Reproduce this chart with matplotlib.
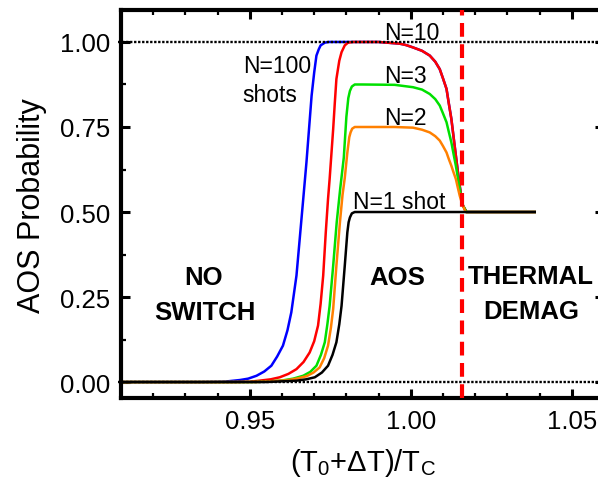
import matplotlib
matplotlib.use("Agg")
import matplotlib.pyplot as plt
from matplotlib.ticker import MultipleLocator

plt.rcParams['font.family'] = ['Liberation Sans', 'DejaVu Sans']
plt.rcParams['mathtext.default'] = 'regular'

# curves: (T0+dT)/Tc and AOS probability
x_n100 = [0.910, 0.935, 0.942, 0.947, 0.9495, 0.9521, 0.9545, 0.9567, 0.9585, 0.9603, 0.9617,
          0.9629, 0.9645, 0.9655, 0.9666, 0.9676, 0.9692, 0.9700, 0.9707, 0.9714, 0.9720, 0.9733,
          0.9745, 0.990, 0.9966, 0.9985, 1.0007, 1.0035, 1.0059, 1.0076, 1.009, 1.0100, 1.0111,
          1.0118, 1.0126, 1.0133, 1.014, 1.0146, 1.0152, 1.0157, 1.0162, 1.0173, 1.0385]
y_n100 = [0.0, 0.0, 0.001, 0.006, 0.010, 0.0185, 0.031, 0.048, 0.075, 0.107, 0.152,
          0.205, 0.313, 0.42, 0.538, 0.646, 0.842, 0.91, 0.96, 0.978, 0.99, 0.998,
          1.0, 1.0, 0.995, 0.991, 0.984, 0.974, 0.96, 0.942, 0.92, 0.893, 0.862,
          0.82, 0.774, 0.72, 0.666, 0.62, 0.577, 0.545, 0.519, 0.5, 0.5]

x_n10 = [0.910, 0.945, 0.950, 0.953, 0.9565, 0.9593, 0.962, 0.9645, 0.9667, 0.9686, 0.9700,
         0.9712, 0.9720, 0.9728, 0.9736, 0.9743, 0.9748, 0.9759, 0.9764, 0.9769, 0.9778, 0.9785,
         0.9795, 0.9805, 0.982, 0.990, 0.9966, 0.9985, 1.0007, 1.0035, 1.0059, 1.0076, 1.009,
         1.0100, 1.0111, 1.0118, 1.0126, 1.0133, 1.014, 1.0146, 1.0152, 1.0157, 1.0162, 1.0173,
         1.0385]
y_n10 = [0.0, 0.0, 0.001, 0.004, 0.008, 0.014, 0.024, 0.038, 0.059, 0.087, 0.12,
         0.166, 0.23, 0.313, 0.44, 0.538, 0.597, 0.744, 0.82, 0.891, 0.945, 0.97,
         0.99, 0.998, 1.0, 1.0, 0.995, 0.991, 0.984, 0.974, 0.96, 0.942, 0.92,
         0.893, 0.862, 0.82, 0.774, 0.72, 0.666, 0.62, 0.577, 0.545, 0.519, 0.5,
         0.5]

x_n3 = [0.910, 0.950, 0.955, 0.9603, 0.9635, 0.9666, 0.9688, 0.9707, 0.9721, 0.9733, 0.9741,
        0.9748, 0.9759, 0.9770, 0.9781, 0.9792, 0.9800, 0.9806, 0.9811, 0.9817, 0.9826, 0.985,
        0.995, 1.0007, 1.0035, 1.0059, 1.0076, 1.009, 1.0100, 1.0111, 1.0118, 1.0126, 1.0133,
        1.014, 1.0146, 1.0152, 1.0157, 1.0162, 1.0173, 1.0385]
y_n3 = [0.0, 0.0, 0.001, 0.005, 0.010, 0.0185, 0.03, 0.048, 0.08, 0.117, 0.17,
        0.224, 0.342, 0.47, 0.57, 0.66, 0.78, 0.835, 0.856, 0.869, 0.875, 0.875,
        0.874, 0.867, 0.86, 0.847, 0.832, 0.813, 0.79, 0.764, 0.736, 0.705, 0.67,
        0.636, 0.602, 0.568, 0.541, 0.519, 0.5, 0.5]

x_n2 = [0.910, 0.952, 0.9614, 0.9645, 0.9676, 0.9698, 0.9717, 0.9731, 0.9743, 0.9752, 0.9759,
        0.9769, 0.9780, 0.9788, 0.9795, 0.9803, 0.9809, 0.9813, 0.9818, 0.9826, 0.985, 0.995,
        1.0007, 1.0035, 1.0059, 1.0076, 1.009, 1.0100, 1.0111, 1.0118, 1.0126, 1.0133, 1.014,
        1.0146, 1.0152, 1.0157, 1.0162, 1.017, 1.0385]
y_n2 = [0.0, 0.0, 0.005, 0.010, 0.017, 0.028, 0.043, 0.07, 0.107, 0.16, 0.215,
        0.342, 0.47, 0.55, 0.60, 0.675, 0.72, 0.734, 0.745, 0.75, 0.75, 0.75,
        0.748, 0.742, 0.734, 0.723, 0.71, 0.694, 0.675, 0.656, 0.636, 0.616, 0.597,
        0.572, 0.548, 0.532, 0.519, 0.5, 0.5]

x_n1 = [0.910, 0.955, 0.9645, 0.9675, 0.9702, 0.9724, 0.9743, 0.9757, 0.9769, 0.9778, 0.9785,
        0.9795, 0.9803, 0.9807, 0.9811, 0.9817, 0.9826, 1.0385]
y_n1 = [0.0, 0.0, 0.004, 0.008, 0.014, 0.028, 0.048, 0.08, 0.117, 0.17, 0.224,
        0.342, 0.44, 0.47, 0.484, 0.496, 0.5, 0.5]

x_tc = 1.016  # thermal demag threshold

fig = plt.figure(figsize=(5.98, 4.89), dpi=100)
ax = fig.add_axes([0.2023, 0.184, 0.8077, 0.7925])

lw = 1.8
ax.plot(x_n100, y_n100, color='#0000ff', lw=lw)
ax.plot(x_n10, y_n10, color='#ff0000', lw=lw)
ax.plot(x_n3, y_n3, color='#00e000', lw=lw)
ax.plot(x_n2, y_n2, color='#ff8000', lw=lw)
ax.plot(x_n1, y_n1, color='black', lw=lw)

for yy in (0.0, 1.0):
    ax.plot([0.909, 1.06], [yy, yy], color='black', lw=1.7, dashes=(1.0, 0.7),
            clip_on=False, zorder=4)

ax.axvline(x_tc, color='#ff0000', lw=3, dashes=(3.3, 1.8), zorder=5)

ax.set_xlim(0.91, 1.06)
ax.set_ylim(-0.047, 1.0926)
ax.xaxis.set_major_locator(MultipleLocator(0.05))
ax.xaxis.set_minor_locator(MultipleLocator(0.01))
ax.yaxis.set_major_locator(MultipleLocator(0.25))
ax.yaxis.set_minor_locator(MultipleLocator(0.125))
ax.xaxis.set_major_formatter(plt.FormatStrFormatter('%.2f'))
ax.yaxis.set_major_formatter(plt.FormatStrFormatter('%.2f'))

for s in ax.spines.values():
    s.set_linewidth(3)
ax.tick_params(which='both', direction='in', top=True, right=True, labelsize=18.5, pad=8)
ax.tick_params(which='major', length=6.5, width=2.2)
ax.tick_params(which='minor', length=3.8, width=1.6)

ax.set_xlabel('(T$_0$+ΔT)/T$_C$', fontsize=21, labelpad=9)
ax.set_ylabel('AOS Probability', fontsize=22, labelpad=9)

txt = dict(fontsize=16.5)
ax.text(0.9478, 0.932, 'N=100', ha='left', va='center', **txt)
ax.text(0.9478, 0.847, 'shots', ha='left', va='center', **txt)
ax.text(1.0003, 1.029, 'N=10', ha='center', va='center', **txt)
ax.text(0.9984, 0.90, 'N=3', ha='center', va='center', **txt)
ax.text(0.9984, 0.779, 'N=2', ha='center', va='center', **txt)
ax.text(0.982, 0.532, 'N=1 shot', ha='left', va='center', **txt)

bold = dict(fontsize=18.5, fontweight='bold', ha='center', va='center')
ax.text(0.9357, 0.309, 'NO', **bold)
ax.text(0.936, 0.206, 'SWITCH', **bold)
ax.text(0.9957, 0.309, 'AOS', **bold)
ax.text(1.0373, 0.312, 'THERMAL', **bold)
ax.text(1.0373, 0.209, 'DEMAG', **bold)

fig.savefig('out.png', dpi=100)
